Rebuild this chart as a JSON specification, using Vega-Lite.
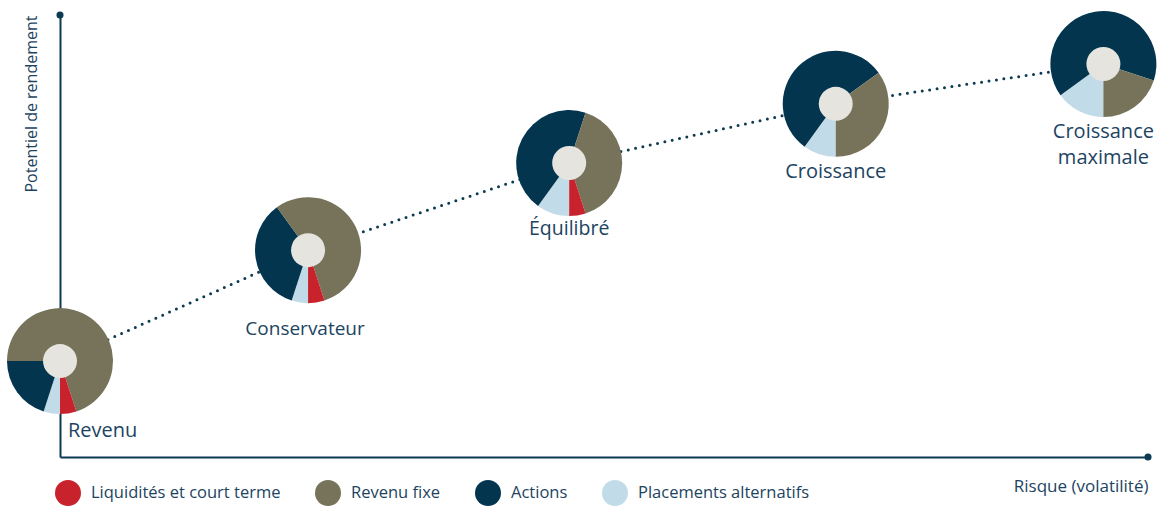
{
  "$schema": "https://vega.github.io/schema/vega-lite/v6.json",
  "width": 1088,
  "height": 442,
  "autosize": {"type": "none"},
  "padding": {"left": 60, "top": 15, "right": 12, "bottom": 55},
  "background": "white",
  "config": {
    "view": {"stroke": null},
    "font": "Open Sans",
    "axis": {
      "domainColor": "#0b3a52",
      "domainWidth": 2,
      "ticks": false,
      "labels": false,
      "grid": false,
      "titleFontWeight": "normal",
      "titleColor": "#1c4461",
      "titleFont": "Open Sans",
      "titleAnchor": "end"
    }
  },
  "datasets": {
    "profils": [
      {"profil": "Revenu", "etiquette": "Revenu", "risque": 0, "rendement": 21.7},
      {"profil": "Conservateur", "etiquette": "Conservateur", "risque": 22.8, "rendement": 46.8},
      {"profil": "Équilibré", "etiquette": "Équilibré", "risque": 46.8, "rendement": 66.5},
      {"profil": "Croissance", "etiquette": "Croissance", "risque": 71.3, "rendement": 79.9},
      {"profil": "Croissance maximale", "etiquette": "Croissance\nmaximale", "risque": 95.9, "rendement": 88.9}
    ],
    "repartition": [
      {"profil": "Revenu", "classe": "Placements alternatifs", "part": 5, "rang": 1},
      {"profil": "Revenu", "classe": "Actions", "part": 20, "rang": 2},
      {"profil": "Revenu", "classe": "Revenu fixe", "part": 70, "rang": 3},
      {"profil": "Revenu", "classe": "Liquidités et court terme", "part": 5, "rang": 4},
      {"profil": "Conservateur", "classe": "Placements alternatifs", "part": 5, "rang": 1},
      {"profil": "Conservateur", "classe": "Actions", "part": 35, "rang": 2},
      {"profil": "Conservateur", "classe": "Revenu fixe", "part": 55, "rang": 3},
      {"profil": "Conservateur", "classe": "Liquidités et court terme", "part": 5, "rang": 4},
      {"profil": "Équilibré", "classe": "Placements alternatifs", "part": 10, "rang": 1},
      {"profil": "Équilibré", "classe": "Actions", "part": 45, "rang": 2},
      {"profil": "Équilibré", "classe": "Revenu fixe", "part": 40, "rang": 3},
      {"profil": "Équilibré", "classe": "Liquidités et court terme", "part": 5, "rang": 4},
      {"profil": "Croissance", "classe": "Placements alternatifs", "part": 10, "rang": 1},
      {"profil": "Croissance", "classe": "Actions", "part": 55, "rang": 2},
      {"profil": "Croissance", "classe": "Revenu fixe", "part": 35, "rang": 3},
      {"profil": "Croissance", "classe": "Liquidités et court terme", "part": 0, "rang": 4},
      {"profil": "Croissance maximale", "classe": "Placements alternatifs", "part": 15, "rang": 1},
      {"profil": "Croissance maximale", "classe": "Actions", "part": 65, "rang": 2},
      {"profil": "Croissance maximale", "classe": "Revenu fixe", "part": 20, "rang": 3},
      {"profil": "Croissance maximale", "classe": "Liquidités et court terme", "part": 0, "rang": 4}
    ],
    "extremites": [
      {"risque": 0, "rendement": 100},
      {"risque": 100, "rendement": 0}
    ]
  },
  "encoding": {
    "x": {
      "field": "risque",
      "type": "quantitative",
      "scale": {"domain": [0, 100], "nice": false, "zero": false},
      "axis": {"title": "Risque (volatilité)", "titlePadding": 21, "titleFontSize": 17}
    },
    "y": {
      "field": "rendement",
      "type": "quantitative",
      "scale": {"domain": [0, 100], "nice": false, "zero": false},
      "axis": {"title": "Potentiel de rendement", "titlePadding": 21, "titleFontSize": 16}
    }
  },
  "layer": [
    {
      "data": {"name": "profils"},
      "mark": {"type": "line", "color": "#0b3a52", "strokeWidth": 3, "strokeDash": [0, 7.5], "strokeCap": "round"}
    },
    {
      "data": {"name": "extremites"},
      "mark": {"type": "circle", "color": "#0b3a52", "size": 50, "opacity": 1}
    },
    {
      "data": {"name": "repartition"},
      "transform": [
        {"filter": "datum.profil === 'Revenu'"},
        {"lookup": "profil", "from": {"data": {"name": "profils"}, "key": "profil", "fields": ["risque", "rendement"]}}
      ],
      "mark": {"type": "arc", "radius": 53},
      "encoding": {
        "theta": {"field": "part", "type": "quantitative", "stack": true, "scale": {"domain": [0, 100], "range": [3.14159265, 9.42477796]}},
        "order": {"field": "rang", "type": "quantitative"},
        "color": {
          "field": "classe", "type": "nominal",
          "scale": {"domain": ["Liquidités et court terme", "Revenu fixe", "Actions", "Placements alternatifs"], "range": ["#c8222c", "#76735a", "#03354f", "#c2dbe8"]},
          "legend": {"orient": "none", "legendX": -5, "legendY": 465, "direction": "horizontal", "columns": 4, "title": null, "symbolType": "circle", "symbolSize": 676, "symbolOpacity": 1, "symbolStrokeWidth": 0, "labelFontSize": 16.5, "labelOffset": 10, "labelLimit": 400, "columnPadding": 34, "labelColor": "#1c4461", "labelFont": "Open Sans", "padding": 0}
        }
      }
    },
    {
      "data": {"name": "repartition"},
      "transform": [
        {"filter": "datum.profil === 'Conservateur'"},
        {"lookup": "profil", "from": {"data": {"name": "profils"}, "key": "profil", "fields": ["risque", "rendement"]}}
      ],
      "mark": {"type": "arc", "radius": 53},
      "encoding": {
        "theta": {"field": "part", "type": "quantitative", "stack": true, "scale": {"domain": [0, 100], "range": [3.14159265, 9.42477796]}},
        "order": {"field": "rang", "type": "quantitative"},
        "color": {"field": "classe", "type": "nominal"}
      }
    },
    {
      "data": {"name": "repartition"},
      "transform": [
        {"filter": "datum.profil === 'Équilibré'"},
        {"lookup": "profil", "from": {"data": {"name": "profils"}, "key": "profil", "fields": ["risque", "rendement"]}}
      ],
      "mark": {"type": "arc", "radius": 53},
      "encoding": {
        "theta": {"field": "part", "type": "quantitative", "stack": true, "scale": {"domain": [0, 100], "range": [3.14159265, 9.42477796]}},
        "order": {"field": "rang", "type": "quantitative"},
        "color": {"field": "classe", "type": "nominal"}
      }
    },
    {
      "data": {"name": "repartition"},
      "transform": [
        {"filter": "datum.profil === 'Croissance'"},
        {"lookup": "profil", "from": {"data": {"name": "profils"}, "key": "profil", "fields": ["risque", "rendement"]}}
      ],
      "mark": {"type": "arc", "radius": 53},
      "encoding": {
        "theta": {"field": "part", "type": "quantitative", "stack": true, "scale": {"domain": [0, 100], "range": [3.14159265, 9.42477796]}},
        "order": {"field": "rang", "type": "quantitative"},
        "color": {"field": "classe", "type": "nominal"}
      }
    },
    {
      "data": {"name": "repartition"},
      "transform": [
        {"filter": "datum.profil === 'Croissance maximale'"},
        {"lookup": "profil", "from": {"data": {"name": "profils"}, "key": "profil", "fields": ["risque", "rendement"]}}
      ],
      "mark": {"type": "arc", "radius": 53},
      "encoding": {
        "theta": {"field": "part", "type": "quantitative", "stack": true, "scale": {"domain": [0, 100], "range": [3.14159265, 9.42477796]}},
        "order": {"field": "rang", "type": "quantitative"},
        "color": {"field": "classe", "type": "nominal"}
      }
    },
    {
      "data": {"name": "profils"},
      "mark": {"type": "circle", "color": "#e6e4df", "size": 1156, "opacity": 1}
    },
    {
      "data": {"name": "profils"},
      "transform": [{"filter": "datum.profil === 'Revenu'"}],
      "mark": {"type": "text", "align": "left", "baseline": "alphabetic", "dx": 8, "dy": 76, "fontSize": 20, "color": "#1c4461"},
      "encoding": {"text": {"field": "etiquette"}}
    },
    {
      "data": {"name": "profils"},
      "transform": [{"filter": "datum.profil === 'Conservateur'"}],
      "mark": {"type": "text", "align": "center", "baseline": "alphabetic", "dx": -3, "dy": 85, "fontSize": 19, "color": "#1c4461"},
      "encoding": {"text": {"field": "etiquette"}}
    },
    {
      "data": {"name": "profils"},
      "transform": [{"filter": "datum.profil === 'Équilibré'"}],
      "mark": {"type": "text", "align": "center", "baseline": "alphabetic", "dy": 72, "fontSize": 19.5, "color": "#1c4461"},
      "encoding": {"text": {"field": "etiquette"}}
    },
    {
      "data": {"name": "profils"},
      "transform": [{"filter": "datum.profil === 'Croissance' || datum.profil === 'Croissance maximale'"}],
      "mark": {"type": "text", "align": "center", "baseline": "alphabetic", "dy": 74, "fontSize": 20, "lineBreak": "\n", "lineHeight": 26, "color": "#1c4461"},
      "encoding": {"text": {"field": "etiquette"}}
    }
  ]
}
